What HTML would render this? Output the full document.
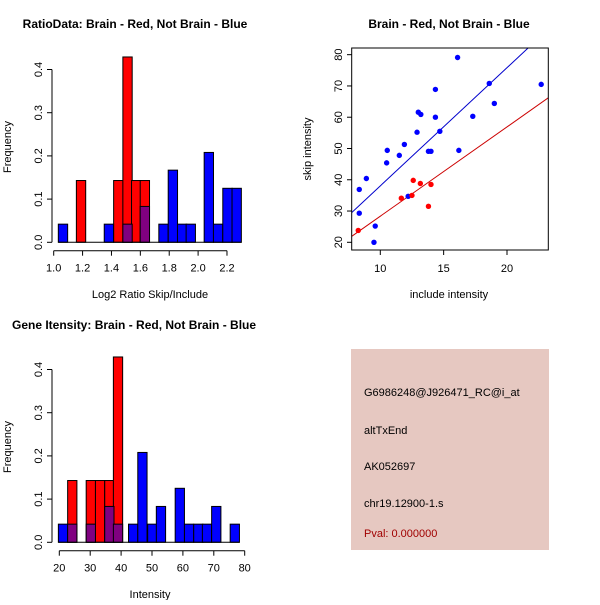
<!DOCTYPE html>
<html><head><meta charset="utf-8"><style>
body{margin:0;background:#fff;}
svg text{font-family:"Liberation Sans",sans-serif;font-size:11px;fill:#000;}
.t{font-weight:bold;font-size:12px;}
</style></head><body>
<svg id="s" width="600" height="600" xmlns="http://www.w3.org/2000/svg">
<rect width="600" height="600" fill="#fff"/>
<text class="t" x="135" y="28" text-anchor="middle">RatioData: Brain - Red, Not Brain - Blue</text>
<text class="t" x="449" y="28" text-anchor="middle">Brain - Red, Not Brain - Blue</text>
<text class="t" x="12" y="329">Gene Itensity: Brain - Red, Not Brain - Blue</text>
<text x="150" y="298" text-anchor="middle">Log2 Ratio Skip/Include</text>
<text x="449" y="298" text-anchor="middle">include intensity</text>
<text x="150" y="598" text-anchor="middle">Intensity</text>
<text transform="translate(11,147) rotate(-90)" text-anchor="middle">Frequency</text>
<text transform="translate(11,447) rotate(-90)" text-anchor="middle">Frequency</text>
<text transform="translate(311,149) rotate(-90)" text-anchor="middle">skip intensity</text>
<g>
<rect x="351" y="349" width="198" height="201" fill="#e6c8c1"/>
<text x="364" y="396" font-size="10">G6986248@J926471_RC@i_at</text>
<text x="364" y="434" font-size="10">altTxEnd</text>
<text x="364" y="470" font-size="10">AK052697</text>
<text x="364" y="507" font-size="10">chr19.12900-1.s</text>
<text x="364" y="537" font-size="10" style="fill:#a00000">Pval: 0.000000</text>
</g>
</svg>
<script>
// Ratio histogram data
const ratioRedStarts=[1.157,1.415,1.479,1.539,1.599];
const ratioRedVals=[0.143,0.143,0.429,0.143,0.143];
const ratioBlueStarts=[1.032,1.350,1.479,1.599,1.728,1.793,1.857,1.917,2.042,2.106,2.171,2.235];
const ratioBlueVals=[0.042,0.042,0.042,0.083,0.042,0.167,0.042,0.042,0.208,0.042,0.125,0.125];
const ratioXTicks=[1.0,1.2,1.4,1.6,1.8,2.0,2.2];
const freqTicks=[0.0,0.1,0.2,0.3,0.4];
// Intensity histogram data
const intRedStarts=[22.7,28.7,31.7,34.7,37.5];
const intRedVals=[0.143,0.143,0.143,0.143,0.429];
const intBlueStarts=[19.7,22.7,28.7,34.7,37.5,42.4,45.4,48.6,51.4,57.5,60.5,63.5,66.3,69.3,75.3];
const intBlueVals=[0.042,0.042,0.042,0.083,0.042,0.042,0.208,0.042,0.083,0.125,0.042,0.042,0.042,0.083,0.042];
const intXTicks=[20,30,40,50,60,70,80];
// Scatter data
const blueX=[8.34,8.34,8.9,9.6,9.5,10.5,10.55,11.5,11.9,12.9,13.0,13.2,13.8,14.0,14.35,14.35,14.7,16.1,16.2,17.3,18.6,19.0,22.7,12.2];
const blueY=[29.3,36.9,40.4,25.2,20,45.4,49.4,47.8,51.3,55.2,61.6,60.9,49.1,49.1,68.9,60.0,55.5,79.1,49.4,60.3,70.8,64.4,70.5,34.7];
const redX=[8.26,11.66,12.5,12.6,13.16,14.0,13.8];
const redY=[23.8,34.1,35.0,39.8,38.8,38.5,31.5];
const blueFit=[0.24,3.78];
const redFit=[-0.2,2.855];
const scXTicks=[10,15,20];
const scYTicks=[20,30,40,50,60,70,80];

const svg=document.getElementById('s');
const NS='http://www.w3.org/2000/svg';
function mk(tag,attrs,parent){const e=document.createElementNS(NS,tag);for(const k in attrs)e.setAttribute(k,attrs[k]);(parent||svg).appendChild(e);return e;}

function hist(prefix,sx,sy,w,rs,rv,bs,bv,xt,xfmt,baseY,axisY){
  const g=mk('g',{});
  
  
  const x0=sx(Math.min(...bs,...rs)), x1=sx(Math.max(...bs,...rs)+w);
  rs.forEach((s,i)=>{const r=mk('rect',{x:sx(s),y:sy(rv[i]),width:sx(s+w)-sx(s),height:sy(0)-sy(rv[i]),fill:'#ff0000',stroke:'#000','stroke-width':1},g);
    
    });
  bs.forEach((s,i)=>{const j=rs.indexOf(s);const v=bv[i];
    if(j>=0){const r=mk('rect',{x:sx(s),y:sy(v),width:sx(s+w)-sx(s),height:sy(0)-sy(v),fill:'#800080',stroke:'#000','stroke-width':1},g);
      
      }
    else{const r=mk('rect',{x:sx(s),y:sy(v),width:sx(s+w)-sx(s),height:sy(0)-sy(v),fill:'#0000ff',stroke:'#000','stroke-width':1},g);
      
      }});
  mk('line',{x1:x0,x2:x1,y1:sy(0),y2:sy(0),stroke:'#000'},g);
  // y axis
  mk('line',{x1:52,x2:52,y1:sy(0),y2:sy(0.4),stroke:'#000'},g);
  freqTicks.forEach(t=>{mk('line',{x1:47,x2:52,y1:sy(t),y2:sy(t),stroke:'#000'},g);
    const tx=mk('text',{transform:`translate(42,${sy(t)}) rotate(-90)`,'text-anchor':'middle'},g);tx.textContent=t.toFixed(1);
    
    });
  // x axis
  mk('line',{x1:sx(xt[0]),x2:sx(xt[xt.length-1]),y1:axisY,y2:axisY,stroke:'#000'},g);
  xt.forEach(t=>{mk('line',{x1:sx(t),x2:sx(t),y1:axisY,y2:axisY+5,stroke:'#000'},g);
    const tx=mk('text',{x:sx(t),y:axisY+21,'text-anchor':'middle'},g);tx.textContent=xfmt(t);
    
    });
}
hist('ratio',v=>53.7+(v-1)*144.4,v=>242.3-v*432,0.0646,ratioRedStarts,ratioRedVals,ratioBlueStarts,ratioBlueVals,ratioXTicks,t=>t.toFixed(1),0,250.7);
hist('intensity',v=>59.3+(v-20)*3.09,v=>542.3-v*432,3.0,intRedStarts,intRedVals,intBlueStarts,intBlueVals,intXTicks,t=>String(t),0,550.7);

// scatter
const px=v=>380.3+(v-10)*12.67, py=v=>242.3-(v-20)*3.127;
const sg=mk('g',{});


const cp=mk('clipPath',{id:'cp'},sg);mk('rect',{x:352,y:48,width:196,height:202},cp);
function fitLine(f,col,name){const xa=7.7,xb=23.3;const l=mk('line',{x1:px(xa),y1:py(f[0]+f[1]*xa),x2:px(xb),y2:py(f[0]+f[1]*xb),stroke:col,'stroke-width':1,'clip-path':'url(#cp)'},sg);
  
  }
fitLine(blueFit,'#0000cc','blue-fit-line');
fitLine(redFit,'#cc0000','red-fit-line');
blueX.forEach((x,i)=>{const c=mk('circle',{cx:px(x),cy:py(blueY[i]),r:2.7,fill:'#0000ff'},sg);
  
  });
redX.forEach((x,i)=>{const c=mk('circle',{cx:px(x),cy:py(redY[i]),r:2.7,fill:'#ff0000'},sg);
  
  });
mk('rect',{x:351.7,y:48,width:196.6,height:202,fill:'none',stroke:'#000'},sg);
scXTicks.forEach(t=>{mk('line',{x1:px(t),x2:px(t),y1:250,y2:255,stroke:'#000'},sg);
  const tx=mk('text',{x:px(t),y:272,'text-anchor':'middle'},sg);tx.textContent=t;
  
  });
scYTicks.forEach(t=>{mk('line',{x1:347,x2:351.7,y1:py(t),y2:py(t),stroke:'#000'},sg);
  const tx=mk('text',{transform:`translate(342,${py(t)}) rotate(-90)`,'text-anchor':'middle'},sg);tx.textContent=t;
  
  });
</script>
</body></html>
